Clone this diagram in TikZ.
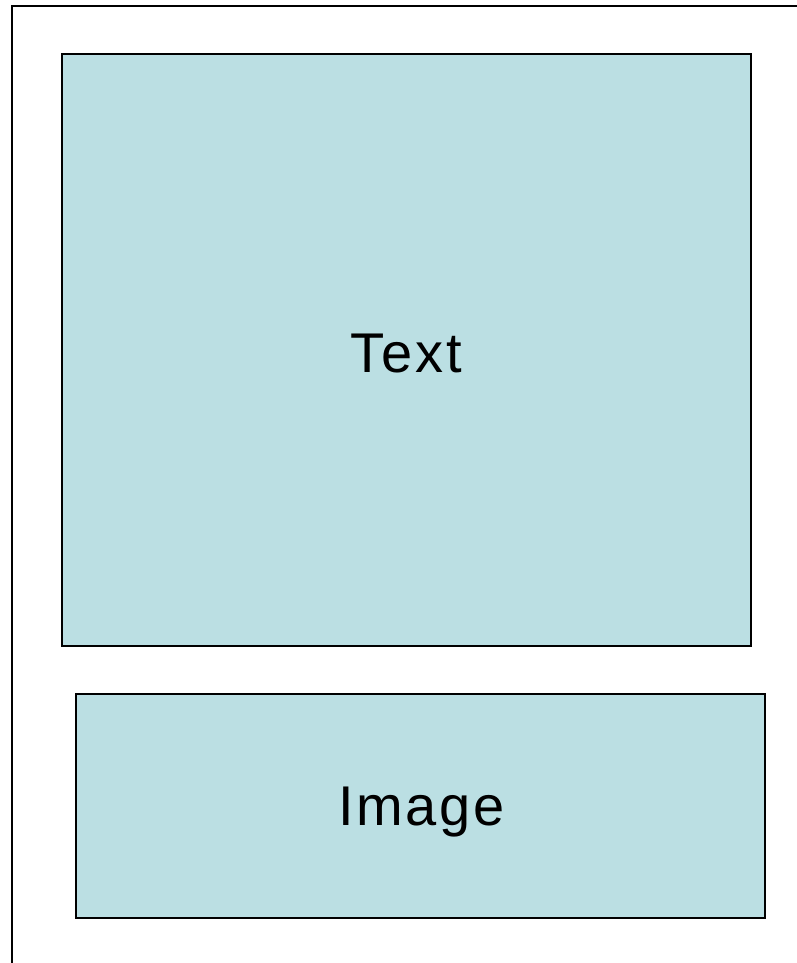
\documentclass[tikz,border=0pt]{standalone}
\usepackage{fontspec}
\setmainfont{Liberation Sans}
\newfontfamily\spacedfont[LetterSpace=5]{Liberation Sans}
\definecolor{boxfill}{HTML}{BBDFE3}
\begin{document}
\begin{tikzpicture}[x=1pt,y=-1pt,
  panel/.style={draw=black,line width=1.6pt,fill=boxfill},
  lbl/.style={font=\spacedfont\fontsize{56}{60}\selectfont,inner sep=0pt}]
\useasboundingbox (0,0) rectangle (797,963);
\draw[line width=1.8pt] (12,963) -- (12,6) -- (797,6);
\draw[panel] (62,54) rectangle (751,646);
\draw[panel] (76,694) rectangle (765,918);
\node[lbl] (text) at (406.5,354) {Text};
\node[lbl] (image) at (421.5,812) {Image};
\end{tikzpicture}
\end{document}
